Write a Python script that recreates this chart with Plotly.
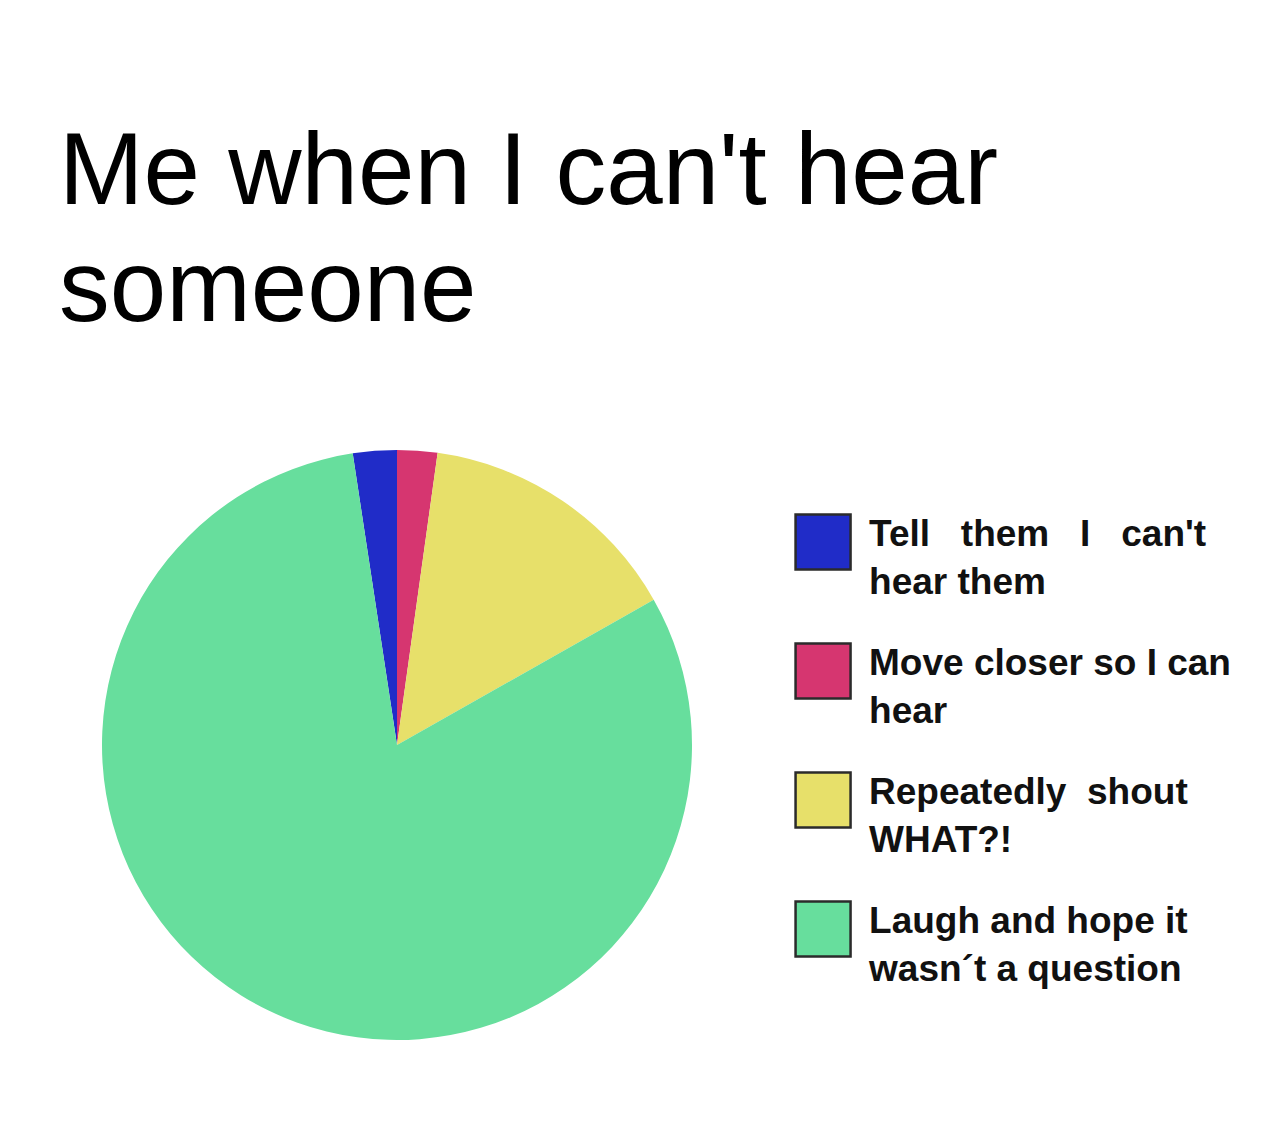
import plotly.graph_objects as go

# ---- data ----
labels = [
    "Tell\u00a0\u00a0\u00a0them\u00a0\u00a0\u00a0I\u00a0\u00a0\u00a0can't<br>hear them",
    "Move closer so I can<br>hear",
    "Repeatedly\u00a0\u00a0shout<br>WHAT?!",
    "Laugh and hope it<br>wasn\u00b4t a question",
]
values = [2.4, 2.2, 14.6, 80.8]
colors = ["#202cc8", "#d63670", "#e7e06a", "#67de9d"]
title_lines = ["Me when I can't hear", "someone"]

W, H = 1283, 1123
FONT = "Liberation Sans, Arial, sans-serif"

# pie starts so that the first slice ends at 12 o'clock
rotation = -values[0] / sum(values) * 360.0

fig = go.Figure()

fig.add_trace(go.Pie(
    labels=labels,
    values=values,
    sort=False,
    direction="clockwise",
    rotation=rotation,
    marker=dict(colors=colors, line=dict(width=0)),
    textinfo="none",
    hoverinfo="none",
    showlegend=False,
    domain=dict(x=[102 / W, 692 / W], y=[1 - 1040 / H, 1 - 450 / H]),
))

idx = list(range(len(labels)))

# custom legend: big swatches
fig.add_trace(go.Scatter(
    x=[0] * len(labels),
    y=idx,
    mode="markers",
    marker=dict(symbol="square", size=55, color=colors,
                line=dict(width=2.5, color="#2b2b2b")),
    hoverinfo="skip",
    showlegend=False,
    cliponaxis=False,
))
# custom legend: labels
fig.add_trace(go.Scatter(
    x=[0.1] * len(labels),
    y=[i + 0.146 for i in idx],
    mode="text",
    text=labels,
    textposition="middle right",
    textfont=dict(family=FONT, size=37, color="#111111", weight="bold"),
    hoverinfo="skip",
    showlegend=False,
    cliponaxis=False,
))

px_per_item = 129.0
first_center = 542.0
y_top = -first_center / px_per_item
y_bot = y_top + H / px_per_item

fig.update_layout(
    width=W, height=H,
    margin=dict(l=0, r=0, t=0, b=0),
    paper_bgcolor="white",
    plot_bgcolor="white",
    xaxis=dict(domain=[0.62, 1.0], range=[-0.06, 1.0], visible=False, fixedrange=True),
    yaxis=dict(domain=[0, 1], range=[y_bot, y_top], visible=False, fixedrange=True),
    showlegend=False,
    hovermode=False,
)

title_tops = [110, 227]
for line, top in zip(title_lines, title_tops):
    fig.add_annotation(
        text=line, xref="paper", yref="paper",
        x=57 / W, y=1 - top / H, xanchor="left", yanchor="top",
        showarrow=False,
        font=dict(family=FONT, size=101.5, color="#000000"),
    )

fig.write_html("out.html", config={"displayModeBar": False})
